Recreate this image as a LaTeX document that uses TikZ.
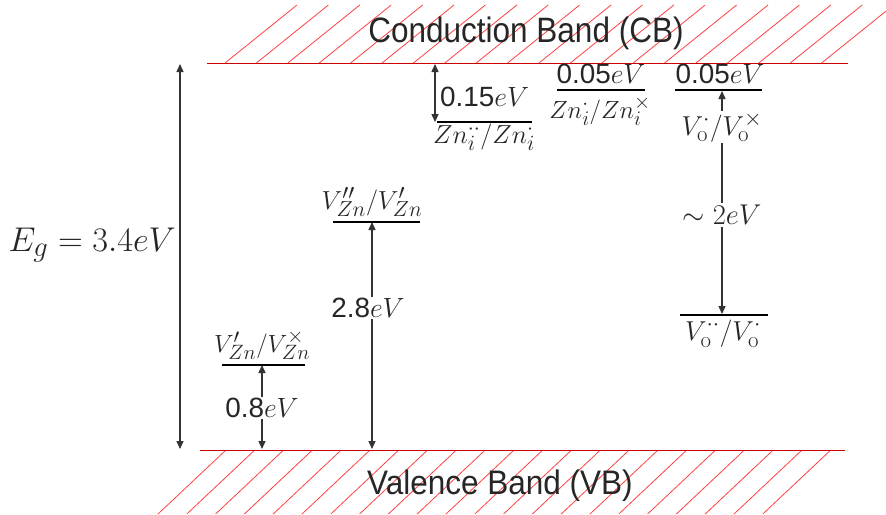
\documentclass[tikz,border=0pt]{standalone}
\usepackage{fontspec}
\usepackage{graphicx}
\newfontfamily\arial{Liberation Sans}
\usetikzlibrary{arrows.meta}
\tikzset{
  band/.style={red!80!black, line width=0.9pt},
  hatch/.style={red!75, line width=0.8pt},
  level/.style={black, line width=1.8pt},
  dimarrow/.style={black!80, line width=1.4pt, {Triangle[length=8pt,width=7pt]}-{Triangle[length=8pt,width=7pt]}},
  lbl/.style={inner sep=1pt, font=\fontsize{24.88}{27}\selectfont, text=black!85},
  val/.style={inner sep=1pt, font=\fontsize{24.88}{27}\selectfont, text=black!85},
  bandtxt/.style={inner sep=0pt, font=\arial\fontsize{31.5}{33}\selectfont, text=black!85},
}
\newcommand{\sfn}[1]{\mbox{\arial #1}}
\newcommand{\sm}[2]{\scalebox{#1}{$#2$}}
\begin{document}
\begin{tikzpicture}[x=1pt,y=-1pt]
\useasboundingbox (0,0) rectangle (886,514);
% hatching conduction band
\begin{scope}
\clip (0,0) rectangle (886,63);
\foreach \i in {0,...,19} {
  \draw[hatch] ({225+31.4*\i},63) -- ++(72,-58);
}
\end{scope}
% hatching valence band
\begin{scope}
\clip (0,450) rectangle (886,514);
\foreach \i in {0,...,21} {
  \draw[hatch] ({226+28.8*\i},450) -- ++(-68,64);
}
\end{scope}
% band texts
\node[bandtxt] (cbtxt) at (526,33) {\scalebox{1}[1.12]{Conduction Band (CB)}};
\node[bandtxt] (vbtxt) at (500,486) {\scalebox{1}[1.08]{Valence Band (VB)}};
% band edges
\coordinate (cbL) at (207,63);
\coordinate (cbR) at (848,63);
\coordinate (vbL) at (200,450);
\coordinate (vbR) at (845,450);
\draw[band] (cbL) -- (cbR);
\draw[band] (vbL) -- (vbR);
% Eg
\coordinate (egT) at (180,64);
\coordinate (egB) at (180,449);
\draw[dimarrow] (egT) -- (egB);
\node[val, anchor=east] (eg) at (177,245) {\sm{1.38}{E_g=3.4eV}};
% level A : V'Zn/VxZn
\coordinate (aL) at (222,365);
\coordinate (aR) at (305,365);
\coordinate (aM) at (262,365);
\coordinate (aB) at (262,449);
\draw[level] (aL) -- (aR);
\node[lbl] (alab) at (262,345) {\sm{1.0}{V^{\prime}_{Zn}/V^{\times}_{Zn}}};
\draw[dimarrow] (aM) -- (aB);
\node[val, fill=white] (aval) at (262,408) {\sm{1.12}{\sfn{0.8}eV}};
% level B : V''Zn/V'Zn
\coordinate (bL) at (333,222);
\coordinate (bR) at (420,222);
\coordinate (bM) at (372,222);
\coordinate (bB) at (372,449);
\draw[level] (bL) -- (bR);
\node[lbl] (blab) at (372,202) {\sm{1.05}{V^{\prime\prime}_{Zn}/V^{\prime}_{Zn}}};
\draw[dimarrow] (bM) -- (bB);
\node[val, fill=white] (bval) at (368,308) {\sm{1.12}{\sfn{2.8}eV}};
% level C : Zn_i../Zn_i.
\coordinate (cL) at (437,122);
\coordinate (cR) at (532,122);
\coordinate (cT) at (435,64);
\coordinate (cB) at (435,122);
\draw[level] (cL) -- (cR);
\draw[dimarrow] (cT) -- (cB);
\node[val, anchor=west] (cval) at (439,97) {\sm{1.12}{\sfn{0.15}eV}};
\node[lbl] (clab) at (484,137) {\sm{1.05}{Zn_i^{\cdot\cdot}/Zn_i^{\cdot}}};
% level D : Zn_i./Zn_ix
\coordinate (dL) at (557,90);
\coordinate (dR) at (645,90);
\draw[level] (dL) -- (dR);
\node[val] (dval) at (601,74) {\sm{1.12}{\sfn{0.05}eV}};
\node[lbl] (dlab) at (600,111) {\sm{1.0}{Zn_i^{\cdot}/Zn_i^{\times}}};
% level E : 0.05 eV (oxygen vacancy)
\coordinate (eL) at (675,90);
\coordinate (eR) at (762,90);
\coordinate (eM) at (722,91);
\draw[level] (eL) -- (eR);
\node[val] (eval) at (720,74) {\sm{1.12}{\sfn{0.05}eV}};
% level F : Vo../Vo.
\coordinate (fL) at (680,315);
\coordinate (fR) at (768,315);
\coordinate (fM) at (722,314);
\draw[level] (fL) -- (fR);
\node[lbl] (flab) at (723,334) {\sm{1.1}{V_{\mathrm{o}}^{\cdot\cdot}/V_{\mathrm{o}}^{\cdot}}};
\draw[dimarrow] (eM) -- (fM);
\node[lbl, fill=white] (elab) at (722,127) {\sm{1.1}{V_{\mathrm{o}}^{\cdot}/V_{\mathrm{o}}^{\times}}};
\node[val, fill=white, inner sep=2pt] (tval) at (722,215) {\sm{1.15}{\sim 2eV}};
\end{tikzpicture}
\end{document}
